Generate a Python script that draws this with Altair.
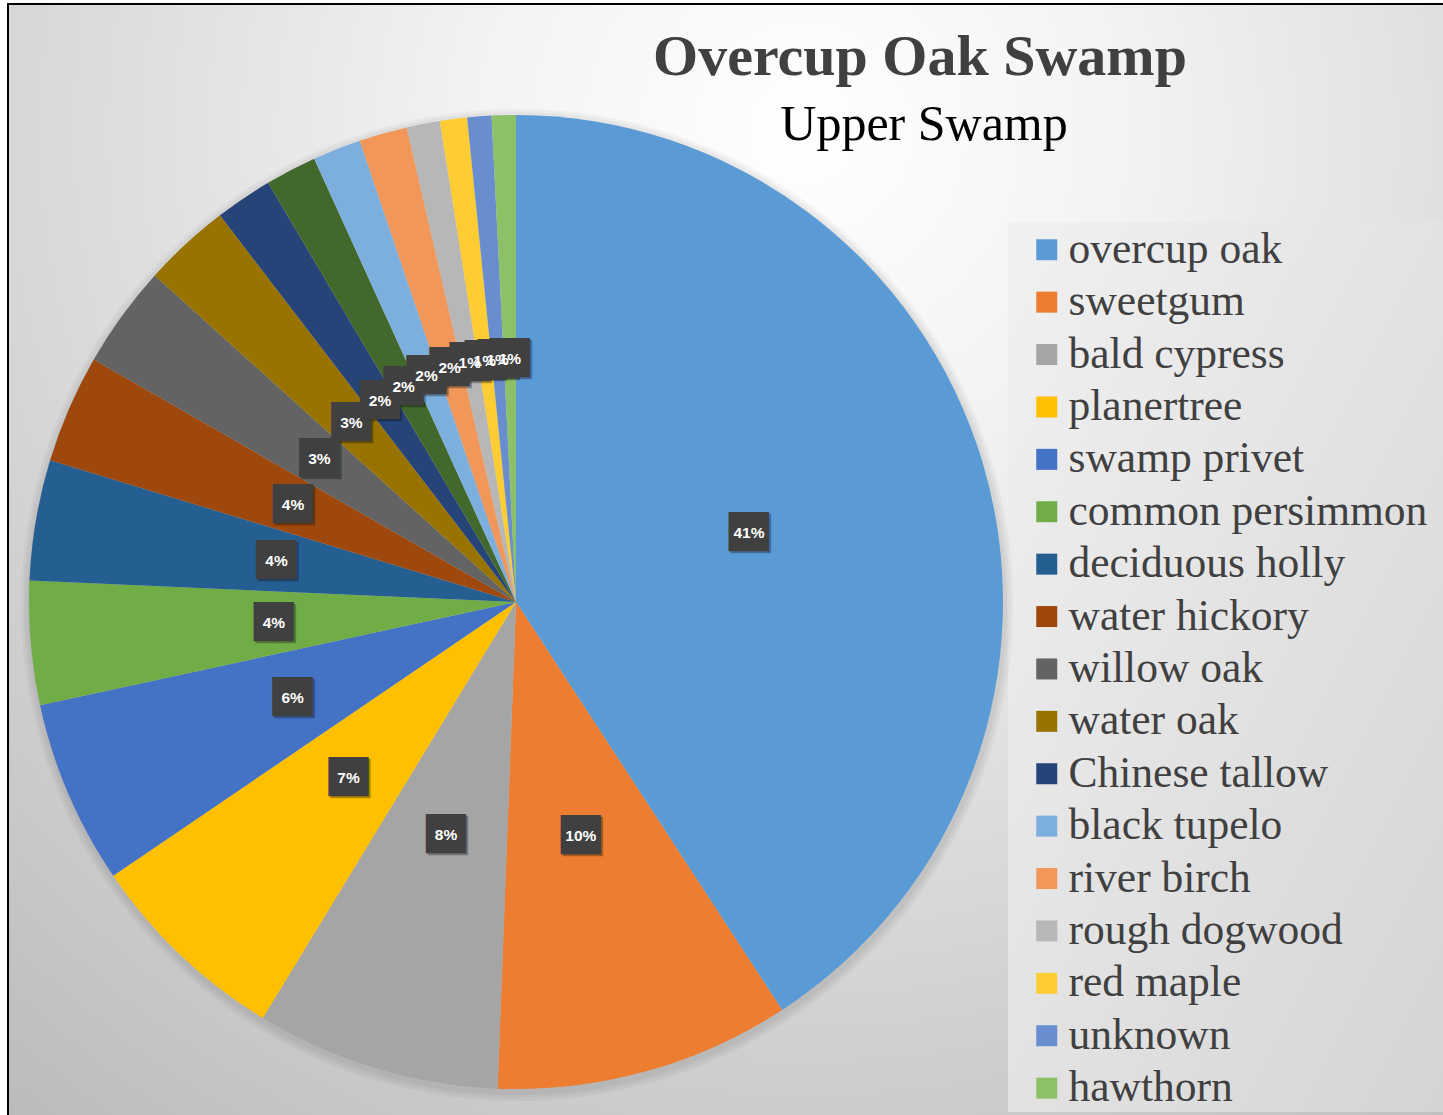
import altair as alt
import pandas as pd

# ---- data ----
species = ["overcup oak", "sweetgum", "bald cypress", "planertree", "swamp privet",
           "common persimmon", "deciduous holly", "water hickory", "willow oak",
           "water oak", "Chinese tallow", "unlabeled", "black tupelo", "river birch",
           "rough dogwood", "red maple", "unknown", "hawthorn"]
shares = [40.8, 9.8, 8.1, 6.8, 6.1, 4.1, 4.0, 3.6, 3.4, 2.9, 1.9, 1.7, 1.6, 1.6,
          1.1, 0.9, 0.8, 0.8]
colors = ["#5B9BD5", "#ED7D31", "#A5A5A5", "#FFC000", "#4472C4", "#70AD47",
          "#255E91", "#9E480E", "#636363", "#997300", "#264478", "#43682B",
          "#7CAFDD", "#F1975A", "#B7B7B7", "#FFCD33", "#698ED0", "#8CC168"]
legend_species = [s for s in species if s != "unlabeled"]

TITLE = "Overcup Oak Swamp"
SUBTITLE = "Upper Swamp"

W, H = 1443, 1115
CX, CY, R, LR = 516, 602, 487, 243

df = pd.DataFrame({"species": species, "share": shares, "idx": list(range(len(species)))})

base = (alt.Chart(df)
        .transform_joinaggregate(total="sum(share)")
        .transform_calculate(pct="round(datum.share / datum.total * 100) + '%'"))

theta = alt.Theta("share:Q", stack=True)
order = alt.Order("idx:Q", sort="ascending")
detail = alt.Detail("species:N")

one = pd.DataFrame({"t": [""]})

background = alt.Chart(one).mark_rect(
    color={"gradient": "radial", "x1": 0.55, "y1": 0.2, "r1": 0,
           "x2": 0.55, "y2": 0.2, "r2": 0.9,
           "stops": [{"offset": 0, "color": "#ffffff"},
                     {"offset": 0.25, "color": "#f3f3f3"},
                     {"offset": 1, "color": "#b9b9b9"}]}
).encode(x=alt.value(8), x2=alt.value(W + 10), y=alt.value(4), y2=alt.value(H + 10))

legend_box = alt.Chart(one).mark_rect(
    color={"gradient": "linear", "x1": 0, "y1": 0, "x2": 1, "y2": 1,
           "stops": [{"offset": 0, "color": "#f1f1f1"},
                     {"offset": 1, "color": "#d4d4d4"}]}
).encode(x=alt.value(1008), x2=alt.value(W + 10), y=alt.value(222), y2=alt.value(1112))

frame = alt.Chart(one).mark_rect(
    fillOpacity=0, stroke="#000000", strokeWidth=2
).encode(x=alt.value(8), x2=alt.value(W + 20), y=alt.value(4), y2=alt.value(H + 20))

shadow_layers = [
    base.mark_arc(outerRadius=R + k, color="#000000", opacity=0.035).encode(
        theta=theta, order=order, detail=detail,
        x=alt.value(CX + 1), y=alt.value(CY + 3))
    for k in (3, 6, 9)
]

pie = base.mark_arc(outerRadius=R).encode(
    theta=theta, order=order, detail=detail,
    color=alt.Color("species:N", sort=species,
                    scale=alt.Scale(domain=species, range=colors),
                    legend=alt.Legend(title=None, values=legend_species,
                                      orient="none", legendX=1025, legendY=228,
                                      symbolType="square", symbolSize=441,
                                      symbolStrokeWidth=0,
                                      labelFont="Liberation Serif", labelFontSize=43.5,
                                      labelColor="#404040", labelOffset=0,
                                      rowPadding=7.4, padding=0, labelLimit=600)),
    x=alt.value(CX), y=alt.value(CY))

BOX = "\u2588\u2588"

box_shadow = base.mark_text(radius=LR, font="DejaVu Sans Mono", fontSize=33,
                            color="#000000", opacity=0.3, dx=2, dy=2,
                            baseline="middle").encode(
    theta=theta, order=order, detail=detail, text=alt.value(BOX),
    x=alt.value(CX), y=alt.value(CY))

box = base.mark_text(radius=LR, font="DejaVu Sans Mono", fontSize=33,
                     color="#404040", baseline="middle").encode(
    theta=theta, order=order, detail=detail, text=alt.value(BOX),
    x=alt.value(CX), y=alt.value(CY))

labels = base.mark_text(radius=LR, font="Liberation Sans", fontSize=15.5,
                        fontWeight="bold", color="#ffffff", baseline="middle").encode(
    theta=theta, order=order, detail=detail, text="pct:N",
    x=alt.value(CX), y=alt.value(CY))

title = alt.Chart(pd.DataFrame({"t": [TITLE]})).mark_text(
    font="Liberation Serif", fontSize=58, fontWeight="bold", color="#404040",
    align="center", baseline="alphabetic"
).encode(text="t:N", x=alt.value(920), y=alt.value(75))

subtitle = alt.Chart(pd.DataFrame({"t": [SUBTITLE]})).mark_text(
    font="Liberation Serif", fontSize=50, color="#000000",
    align="center", baseline="alphabetic"
).encode(text="t:N", x=alt.value(924), y=alt.value(140))

chart = alt.layer(
    background, legend_box, frame, *shadow_layers, pie, box_shadow, box, labels,
    title, subtitle
).properties(
    width=W, height=H, padding=0,
    autosize=alt.AutoSizeParams(type="none")
).configure_view(stroke=None)

chart.save("out.html", embed_options={"renderer": "svg", "actions": False})
